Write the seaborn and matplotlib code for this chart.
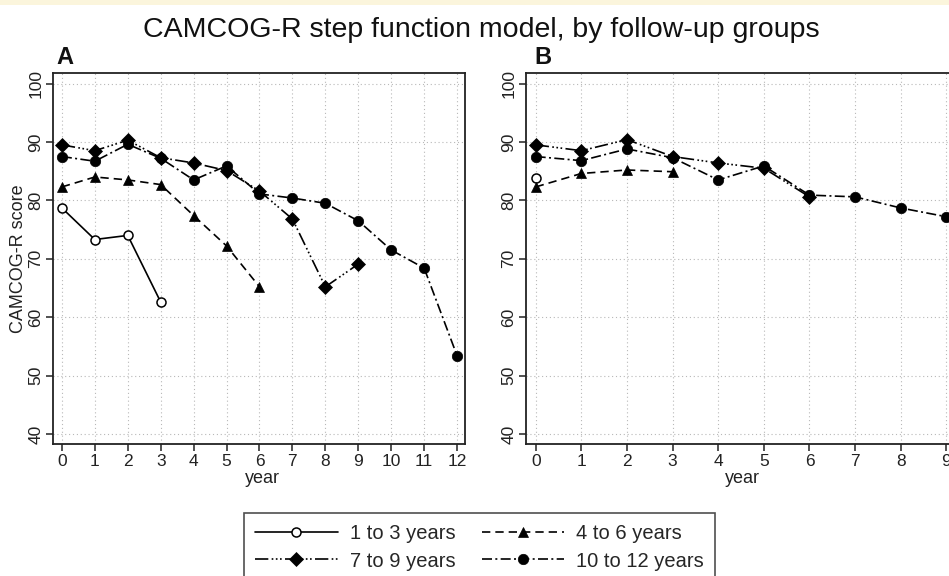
import numpy as np
import pandas as pd
import matplotlib
matplotlib.use("Agg")
import matplotlib.pyplot as plt
from matplotlib.lines import Line2D
import seaborn as sns

sns.set_theme(style="white")
plt.rcParams['font.family'] = ['Liberation Sans', 'DejaVu Sans']
NARROW = ['Liberation Sans Narrow', 'Liberation Sans', 'DejaVu Sans']

# ---- data ----
groups = ["1 to 3 years", "4 to 6 years", "7 to 9 years", "10 to 12 years"]

a_years_g1 = [0, 1, 2, 3]
a_score_g1 = [78.7, 73.3, 74.0, 62.6]
a_years_g2 = [0, 1, 2, 3, 4, 5, 6]
a_score_g2 = [82.3, 84.0, 83.5, 82.7, 77.4, 72.2, 65.2]
a_years_g3 = [0, 1, 2, 3, 4, 5, 6, 7, 8, 9]
a_score_g3 = [89.5, 88.5, 90.3, 87.3, 86.4, 85.1, 81.6, 76.8, 65.2, 69.1]
a_years_g4 = [0, 1, 2, 3, 4, 5, 6, 7, 8, 9, 10, 11, 12]
a_score_g4 = [87.5, 86.7, 89.6, 87.2, 83.5, 85.9, 81.1, 80.4, 79.5, 76.5, 71.5, 68.4, 53.4]

b_years_g1 = [0]
b_score_g1 = [83.9]
b_years_g2 = [0, 1, 2, 3]
b_score_g2 = [82.3, 84.6, 85.2, 84.9]
b_years_g3 = [0, 1, 2, 3, 4, 5, 6]
b_score_g3 = [89.5, 88.5, 90.4, 87.5, 86.4, 85.5, 80.6]
b_years_g4 = [0, 1, 2, 3, 4, 5, 6, 7, 8, 9]
b_score_g4 = [87.5, 86.8, 88.8, 87.3, 83.5, 85.9, 80.9, 80.6, 78.7, 77.2]

x_ticks_a = list(range(0, 13))
x_ticks_b = list(range(0, 10))
y_ticks = [40, 50, 60, 70, 80, 90, 100]


def frame(years, scores, group):
    return pd.DataFrame({"year": years, "score": scores, "group": group})


df_a = pd.concat([frame(a_years_g1, a_score_g1, groups[0]),
                  frame(a_years_g2, a_score_g2, groups[1]),
                  frame(a_years_g3, a_score_g3, groups[2]),
                  frame(a_years_g4, a_score_g4, groups[3])])
df_b = pd.concat([frame(b_years_g1, b_score_g1, groups[0]),
                  frame(b_years_g2, b_score_g2, groups[1]),
                  frame(b_years_g3, b_score_g3, groups[2]),
                  frame(b_years_g4, b_score_g4, groups[3])])

styles = {
    groups[0]: dict(marker="o", markersize=6.5, markerfacecolor="white",
                    markeredgecolor="black", markeredgewidth=1.1,
                    linestyle="-"),
    groups[1]: dict(marker="^", markersize=7.5, markerfacecolor="black",
                    markeredgecolor="black", markeredgewidth=0.5,
                    linestyle=(0, (5, 3))),
    groups[2]: dict(marker="D", markersize=7, markerfacecolor="black",
                    markeredgecolor="black", markeredgewidth=0.5,
                    linestyle=(0, (8, 2, 1, 1.5, 1, 1.5, 1, 2))),
    groups[3]: dict(marker="o", markersize=7.5, markerfacecolor="black",
                    markeredgecolor="black", markeredgewidth=0.5,
                    linestyle=(0, (6, 2, 1.2, 2))),
}

W, H = 949, 576
fig = plt.figure(figsize=(W / 100, H / 100), dpi=100)
fig.patch.set_facecolor("white")

# faint yellow strip at the top
fig.patches.append(plt.Rectangle((0, 1 - 5 / H), 1, 5 / H, transform=fig.transFigure,
                                 facecolor="#fbf5dc", edgecolor="none"))

ax_a = fig.add_axes([53 / W, 1 - 444 / H, 412 / W, 371 / H])
ax_b = fig.add_axes([526 / W, 1 - 444 / H, 434 / W, 371 / H])


def draw(ax, df, xlim, xticks):
    for g in groups:
        sub = df[df["group"] == g]
        st = styles[g]
        sns.lineplot(data=sub, x="year", y="score", ax=ax, color="black",
                     linewidth=1.2, legend=False, label=g, **st)
    ax.set_xlim(*xlim)
    ax.set_ylim(38.3, 101.8)
    ax.set_xticks(xticks)
    ax.set_yticks(y_ticks)
    ax.set_xticklabels([str(t) for t in xticks], fontsize=12.5, family=NARROW)
    ax.set_yticklabels([str(t) for t in y_ticks], fontsize=12.5, rotation=90,
                       va="center", family=NARROW)
    ax.grid(True, linestyle=(0, (1, 2.5)), color="#b8b8b8", linewidth=0.8)
    ax.set_axisbelow(True)
    for s in ax.spines.values():
        s.set_visible(True)
        s.set_color("#222222")
        s.set_linewidth(1.3)
    ax.tick_params(axis="both", which="major", direction="out", length=5,
                   width=1.1, color="#222222", pad=2, bottom=True, left=True,
                   labelcolor="#222222")
    ax.set_xlabel("year", fontsize=13, color="#222222", family=NARROW)
    ax.set_facecolor("white")


draw(ax_a, df_a, (-0.27, 12.24), x_ticks_a)
draw(ax_b, df_b, (-0.213, 9.3), x_ticks_b)
ax_a.set_ylabel("CAMCOG-R score", fontsize=13, labelpad=1, color="#222222",
                family=NARROW)
ax_b.set_ylabel("")
ax_a.xaxis.set_label_coords((262 - 53) / 412, -0.07)
ax_b.xaxis.set_label_coords((742 - 526) / 434, -0.07)

fig.text(481 / W, 1 - 30 / H, "CAMCOG-R step function model, by follow-up groups",
         ha="center", va="center", fontsize=20.5, color="#111111")
fig.text(56 / W, 1 - 57 / H, "A", ha="left", va="center", fontsize=17,
         fontweight="bold", color="#111111", family=NARROW)
fig.text(534 / W, 1 - 57 / H, "B", ha="left", va="center", fontsize=17,
         fontweight="bold", color="#111111", family=NARROW)

# legend (row-wise: 1-3, 4-6 / 7-9, 10-12)
order = [groups[0], groups[2], groups[1], groups[3]]
handles = []
for g in order:
    st = styles[g]
    handles.append(Line2D([0], [0], color="black", linewidth=1.2, **st))
leg = fig.legend(handles, order, loc="upper left",
                 bbox_to_anchor=(244 / W, 1 - 513 / H), ncol=2, fontsize=14.5,
                 frameon=True, fancybox=False, edgecolor="#222222",
                 handlelength=4.1, handletextpad=0.6, columnspacing=1.3,
                 borderpad=0.55, labelspacing=0.42, markerscale=1.0,
                 borderaxespad=0)
leg.get_frame().set_linewidth(1.2)

fig.savefig("out.png", dpi=100)
